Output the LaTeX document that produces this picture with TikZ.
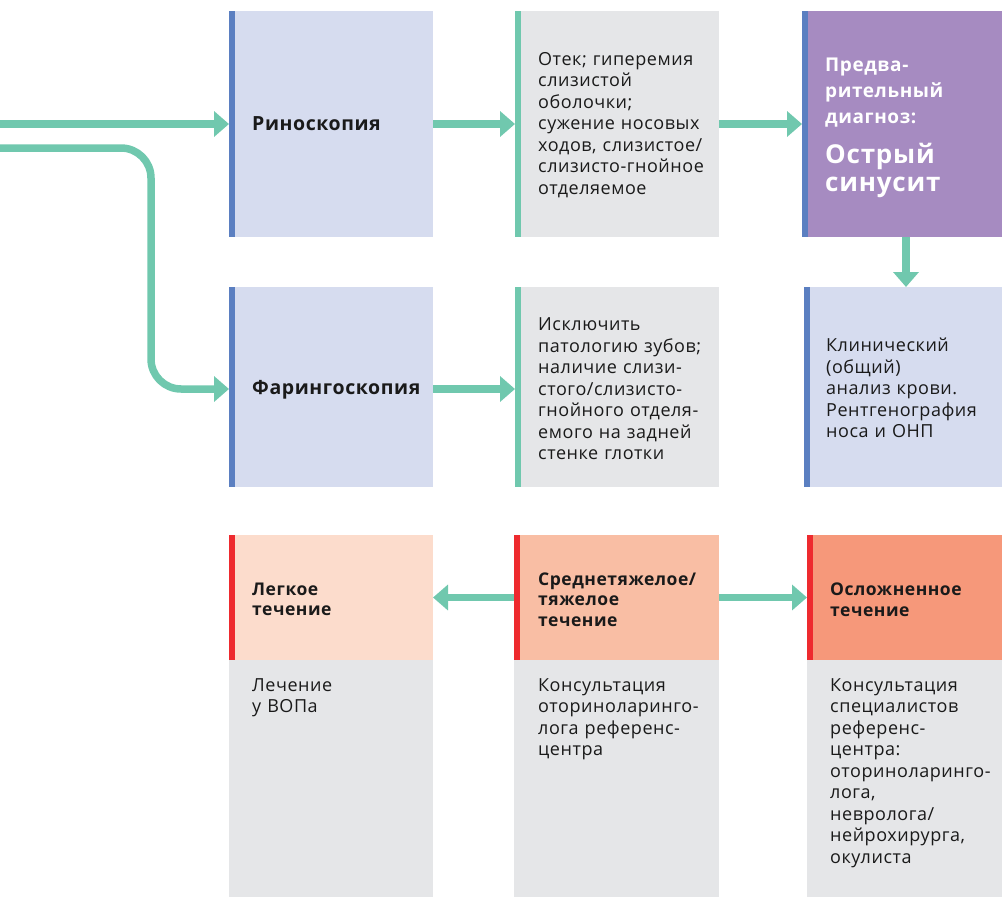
\documentclass[tikz,border=0pt]{standalone}
\usepackage{fontspec}
\setmainfont{Open Sans}[LetterSpace=3]
\usetikzlibrary{arrows.meta}

\definecolor{flowgreen}{HTML}{70C8AE}
\definecolor{lavender}{HTML}{D6DCEF}
\definecolor{barblue}{HTML}{5B7FC1}
\definecolor{panelgrey}{HTML}{E5E6E8}
\definecolor{diagpurple}{HTML}{A68BC1}
\definecolor{peachlight}{HTML}{FCDCCC}
\definecolor{peachmid}{HTML}{F9BEA4}
\definecolor{salmon}{HTML}{F6987A}
\definecolor{barred}{HTML}{EE2A2E}
\definecolor{ink}{HTML}{1A1A1A}

\begin{document}
\begin{tikzpicture}[x=1pt,y=-1pt,
  panel/.style={draw=none, inner sep=0pt, outer sep=0pt, anchor=north west},
  flow/.style={draw=flowgreen, line width=7.5pt, -{Triangle[length=15pt,width=25pt]}},
  bodytext/.style={inner sep=0pt, align=left, text width=185pt, text=ink,
    font=\fontsize{18}{21.5}\selectfont},
  titletext/.style={inner sep=0pt, align=left, text width=185pt, text=ink,
    font=\fontsize{19.5}{23}\selectfont\bfseries},
  headtext/.style={inner sep=0pt, align=left, text width=185pt, text=ink,
    font=\fontsize{17.5}{20.5}\selectfont\bfseries}]

\useasboundingbox (0,0) rectangle (1002,897);

% ---- row 1 ----
\node[panel, fill=lavender, minimum width=204pt, minimum height=226pt] (rino) at (229,11) {};
\node[panel, fill=panelgrey, minimum width=204pt, minimum height=226pt] (rinofind) at (515,11) {};
\node[panel, fill=diagpurple, minimum width=200pt, minimum height=226pt] (diag) at (802,11) {};

% ---- row 2 ----
\node[panel, fill=lavender, minimum width=204pt, minimum height=200pt] (faring) at (229,287) {};
\node[panel, fill=panelgrey, minimum width=204pt, minimum height=200pt] (faringfind) at (515,287) {};
\node[panel, fill=lavender, minimum width=198pt, minimum height=200pt] (tests) at (804,287) {};

% ---- row 3: severity headers and what follows ----
\node[panel, fill=peachlight, minimum width=204pt, minimum height=125pt] (mildhead) at (229,535) {};
\node[panel, fill=panelgrey, minimum width=204pt, minimum height=237pt] (mildbody) at (229,660) {};
\node[panel, fill=peachmid, minimum width=205pt, minimum height=125pt] (modhead) at (514,535) {};
\node[panel, fill=panelgrey, minimum width=205pt, minimum height=237pt] (modbody) at (514,660) {};
\node[panel, fill=salmon, minimum width=195pt, minimum height=125pt] (complhead) at (807,535) {};
\node[panel, fill=panelgrey, minimum width=195pt, minimum height=237pt] (complbody) at (807,660) {};

% ---- accent bars on the left edges ----
\foreach \b/\c in {rino/barblue, faring/barblue, diag/barblue, tests/barblue,
                   rinofind/flowgreen, faringfind/flowgreen,
                   mildhead/barred, modhead/barred, complhead/barred}
  \fill[\c] (\b.north west) rectangle ([xshift=5.5pt]\b.south west);

% ---- texts ----
\node[titletext, anchor=west] at ([xshift=23pt]rino.west) {Риноскопия};
\node[titletext, anchor=west] at ([xshift=23pt,yshift=-3pt]faring.west) {Фарингоскопия};

\node[bodytext, anchor=west] at ([xshift=23pt,yshift=-1pt]rinofind.west)
  {Отек; гиперемия\\слизистой\\оболочки;\\сужение носовых\\ходов, слизистое/\\слизисто-гнойное\\отделяемое};
\node[bodytext, anchor=west] at ([xshift=23pt,yshift=-2pt]faringfind.west)
  {Исключить\\патологию зубов;\\наличие слизи-\\стого/слизисто-\\гнойного отделя-\\емого на задней\\стенке глотки};
\node[bodytext, anchor=west] at ([xshift=22pt,yshift=-1pt]tests.west)
  {Клинический\\(общий)\\анализ крови.\\Рентгенография\\носа и ОНП};

\node[inner sep=0pt, align=left, text width=175pt, text=white, anchor=north west, font=\bfseries]
  at (825,58)
  {\fontsize{19}{26}\selectfont Предва-\\рительный\\диагноз:\par
   \vspace{12pt}\fontsize{26}{28}\selectfont Острый\\синусит\par};

\node[headtext, anchor=west] at ([xshift=23pt,yshift=-2pt]mildhead.west) {Легкое\\течение};
\node[headtext, anchor=west] at ([xshift=24pt,yshift=-2pt]modhead.west) {Среднетяжелое/\\тяжелое\\течение};
\node[headtext, anchor=west] at ([xshift=23pt,yshift=-2pt]complhead.west) {Осложненное\\течение};

\node[bodytext, anchor=north west] at (252,678) {Лечение\\у ВОПа};
\node[bodytext, anchor=north west] at (538,678) {Консультация\\оториноларинго-\\лога референс-\\центра};
\node[bodytext, anchor=north west] at (830,678)
  {Консультация\\специалистов\\референс-\\центра:\\оториноларинго-\\лога,\\невролога/\\нейрохирурга,\\окулиста};

% ---- connectors ----
\coordinate (inA) at (0,124);
\coordinate (inB) at (0,148);
\coordinate (turn) at (151,148);
\coordinate (faringin) at ([yshift=-2pt]faring.west);
\coordinate (faringout) at ([yshift=-2pt]faring.east);
\draw[flow] (inA) -- (rino.west);
\draw[flow, rounded corners=30pt] (inB) -- (turn) -- (turn |- faringin) -- (faringin);
\draw[flow] (rino.east) -- (rinofind.west);
\draw[flow] (rinofind.east) -- (diag.west);
\draw[flow] (faringout) -- (faringout -| faringfind.west);
\draw[flow] ([xshift=4pt]diag.south) -- ([xshift=4pt]diag.south |- tests.north);
\draw[flow] (modhead.west) -- (mildhead.east);
\draw[flow] (modhead.east) -- (complhead.west);

\end{tikzpicture}
\end{document}
